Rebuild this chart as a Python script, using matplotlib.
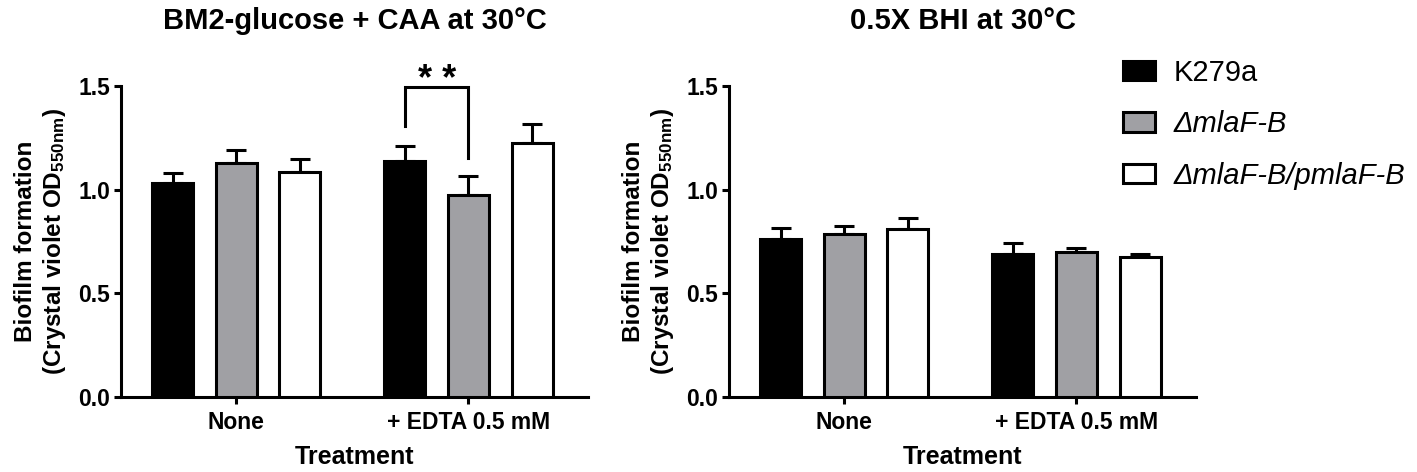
import numpy as np
import matplotlib
matplotlib.use('Agg')
import matplotlib.pyplot as plt

plt.rcParams['font.family'] = ['Liberation Sans', 'DejaVu Sans']
plt.rcParams['mathtext.fontset'] = 'custom'
plt.rcParams['mathtext.rm'] = 'Liberation Sans'
plt.rcParams['mathtext.bf'] = 'Liberation Sans:bold'
plt.rcParams['mathtext.it'] = 'Liberation Sans:italic'

# data
treatments = ['None', '+ EDTA 0.5 mM']
strains = ['K279a', '\u0394mlaF-B', '\u0394mlaF-B/pmlaF-B']
colors = ['black', '#a0a0a4', 'white']

bm2_mean = [[1.031, 1.136],   # K279a
            [1.128, 0.974],   # dmlaF-B
            [1.084, 1.225]]   # complemented
bm2_err = [[0.048, 0.076],
           [0.061, 0.091],
           [0.066, 0.091]]

bhi_mean = [[0.764, 0.691],
            [0.785, 0.697],
            [0.812, 0.676]]
bhi_err = [[0.053, 0.052],
           [0.039, 0.020],
           [0.050, 0.015]]

titles = ['BM2-glucose + CAA at 30\u00b0C', '0.5X BHI at 30\u00b0C']

W, H = 1417, 472
fig = plt.figure(figsize=(W / 100, H / 100), dpi=100)

lw = 2.2
width = 0.177
step = 0.274
x = np.arange(len(treatments))


def panel(left_px, means, errs, title):
    ax = fig.add_axes([left_px / W, (H - 397) / H, 467 / W, 311 / H])
    bars = []
    for i in range(len(strains)):
        pos = x + (i - 1) * step
        b = ax.bar(pos, means[i], width, color=colors[i], edgecolor='black',
                   linewidth=lw, label=strains[i], zorder=3)
        ax.errorbar(pos, means[i], yerr=[np.zeros(len(x)), errs[i]], fmt='none',
                    ecolor='black', elinewidth=lw, capsize=7, capthick=lw, zorder=2)
        bars.append(b)
    ax.set_xlim(-0.497, 1.515)
    ax.set_ylim(0, 1.5)
    ax.set_yticks([0, 0.5, 1.0, 1.5])
    ax.set_yticklabels(['0.0', '0.5', '1.0', '1.5'])
    ax.set_xticks(x)
    ax.set_xticklabels(treatments)
    for s in ['top', 'right']:
        ax.spines[s].set_visible(False)
    for s in ['left', 'bottom']:
        ax.spines[s].set_linewidth(lw)
    ax.tick_params(direction='out', length=5, width=lw, labelsize=16.5)
    ax.tick_params(axis='x', pad=5)
    ax.tick_params(axis='y', pad=3)
    for lab in ax.get_xticklabels() + ax.get_yticklabels():
        lab.set_fontweight('bold')
    ax.set_xlabel('Treatment', fontsize=18, fontweight='bold', labelpad=8)
    ax.set_ylabel('Biofilm formation\n(Crystal violet OD$_{\\mathbf{550nm}}$)',
                  fontsize=17.5, fontweight='bold', labelpad=7, linespacing=1.2)
    ax.set_title(title, fontsize=21, fontweight='bold', pad=41)
    return ax, bars


ax1, bars = panel(121, bm2_mean, bm2_err, titles[0])
ax2, _ = panel(729, bhi_mean, bhi_err, titles[1])

# significance bracket between K279a and dmlaF-B with EDTA
xl = x[1] - step
xr = x[1]
ax1.plot([xl, xl, xr, xr], [1.306, 1.495, 1.495, 1.152], color='black',
         linewidth=lw, clip_on=False, solid_joinstyle='miter')
ax1.text((xl + xr) / 2, 1.48, '* *', ha='center', va='baseline', fontsize=26,
         fontweight='bold', clip_on=False)

leg = fig.legend(handles=bars, labels=strains, loc='upper left',
                 bbox_to_anchor=(1123 / W, 1 - 59 / H), frameon=False,
                 fontsize=21, handlelength=1.1, handleheight=0.65,
                 handletextpad=0.65, labelspacing=0.8, borderpad=0,
                 borderaxespad=0)
for i, t in enumerate(leg.get_texts()):
    if i > 0:
        t.set_fontstyle('italic')

fig.savefig('out.png', dpi=100)
